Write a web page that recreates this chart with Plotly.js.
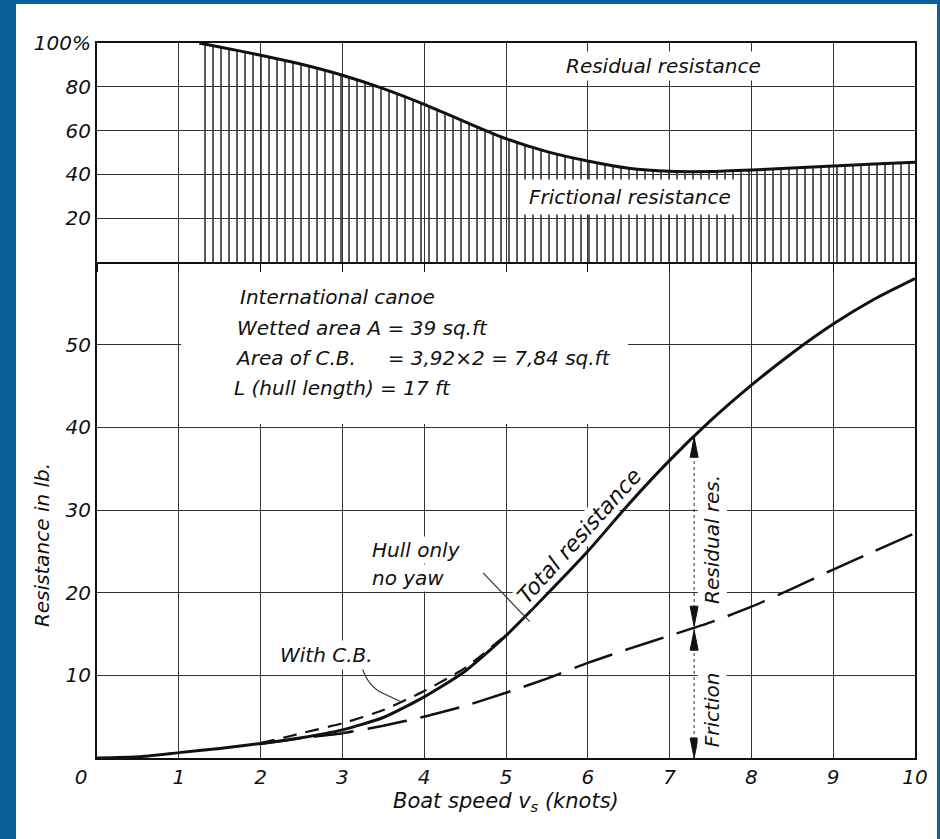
<!DOCTYPE html>
<html><head><meta charset="utf-8">
<script src="https://cdn.plot.ly/plotly-3.0.1.min.js"></script>
<style>
html,body{margin:0;padding:0;background:#0a5f97;width:940px;height:839px;overflow:hidden}
#chart{position:absolute;left:16px;top:4px;width:921px;height:835px;background:#fff}
</style></head><body><div id="chart"></div>
<script>
// ---- data ----
// Lower panel: resistance in lb vs boat speed in knots
const totalSpeed = [0,0.5,1,1.5,2,2.5,3,3.5,4,4.5,5,5.5,6,6.5,7,7.5,8,8.5,9,9.5,10];
const totalRes   = [0,0.15,0.65,1.15,1.75,2.45,3.4,4.9,7.4,10.5,14.8,19.8,25.0,30.7,36.0,40.8,45.1,49.0,52.5,55.5,58.0];
const withCBSpeed = [2.0,2.3,2.5,3.0,3.5,4.0,4.5,5.0];
const withCBRes   = [1.8,2.5,3.0,4.2,5.8,8.1,10.9,14.9];
const frictionSpeed = [2,2.5,3,3.5,4,4.5,5,5.5,6,6.5,7,7.5,8,8.5,9,9.5,10];
const frictionRes   = [1.7,2.4,3.0,3.9,5.0,6.3,7.9,9.6,11.5,13.2,14.8,16.4,18.3,20.5,22.8,25.0,27.2];
// Upper panel: frictional share of total resistance (%)
const shareSpeed = [1.25,1.5,2,2.5,3,3.5,4,4.5,5,5.5,6,6.5,7,7.5,8,8.5,9,9.5,10];
const sharePct   = [100,98.2,94.4,90.3,85.3,79.2,72,64,56.3,50.4,46.1,42.8,41.4,41.3,42,42.9,43.8,44.7,45.5];
// Marked speed with residual / friction split
const splitSpeed = 7.3;
const splitTotal = 38.8;
const splitFriction = 15.7;
// Tick labels
const xTickVals = [0,1,2,3,4,5,6,7,8,9,10];
const xTickText = ['0\u00a0\u00a0\u00a0\u00a0\u00a0','1','2','3','4','5','6','7','8','9','10'];
const yTickVals = [10,20,30,40,50];
const yTickText = ['10','20','30','40','50'];
const y2TickVals = [20,40,60,80,100];
const y2TickText = ['20','40','60','80','100%'];
const infoLines = ['International canoe','Wetted area A = 39 sq.ft',
  'Area of C.B.\u00a0\u00a0\u00a0\u00a0\u00a0= 3,92\u00d72 = 7,84 sq.ft','L (hull length) = 17 ft'];

// ---- styling ----
const FONT = 'DejaVu Sans, Liberation Sans, sans-serif';
const INK = '#111';
const GRID = '#333';
const tf = {family: FONT, size: 20, color: INK, style: 'italic'};

const traces = [
  {x: shareSpeed, y: sharePct, xaxis: 'x2', yaxis: 'y2', type: 'scatter', mode: 'lines',
   line: {color: INK, width: 3, shape: 'spline', smoothing: 0.6},
   fill: 'tozeroy', fillcolor: 'rgba(0,0,0,0)',
   fillpattern: {shape: '|', size: 8, solidity: 0.2, fgcolor: '#333', bgcolor: 'rgba(0,0,0,0)'},
   hoverinfo: 'skip', showlegend: false},
  {x: frictionSpeed, y: frictionRes, type: 'scatter', mode: 'lines',
   line: {color: INK, width: 2.5, dash: '40px,14px', shape: 'spline', smoothing: 0.6},
   hoverinfo: 'skip', showlegend: false},
  {x: withCBSpeed, y: withCBRes, type: 'scatter', mode: 'lines',
   line: {color: INK, width: 2.2, dash: '14px,9px', shape: 'spline', smoothing: 0.6},
   hoverinfo: 'skip', showlegend: false},
  {x: totalSpeed, y: totalRes, type: 'scatter', mode: 'lines',
   line: {color: INK, width: 3, shape: 'spline', smoothing: 0.6},
   hoverinfo: 'skip', showlegend: false}
];

const lowerTop = 496/715;
const axisCommon = {showgrid: true, gridcolor: GRID, gridwidth: 1, zeroline: false,
  showline: true, linecolor: INK, linewidth: 2, mirror: true, tickfont: tf, fixedrange: true};

function txt(text, x, y, opts) {
  return Object.assign({text: text, x: x, y: y, xref: 'x', yref: 'y', showarrow: false,
    font: tf, bgcolor: '#fff', borderpad: 2}, opts || {});
}
const annotations = [
  txt('Residual resistance', 6.93, 89.5, {xref: 'x2', yref: 'y2'}),
  txt('Frictional resistance', 6.52, 29.8, {xref: 'x2', yref: 'y2', borderpad: 5}),
  txt(infoLines[0], 1.71, 55.8, {xanchor: 'left'}),
  txt(infoLines[1], 1.67, 52.0, {xanchor: 'left'}),
  txt(infoLines[2], 1.65, 48.4, {xanchor: 'left'}),
  txt(infoLines[3], 1.64, 44.8, {xanchor: 'left'}),
  txt('Hull only', 3.34, 25.2, {xanchor: 'left', borderpad: 1}),
  txt('no yaw', 3.34, 21.8, {xanchor: 'left', borderpad: 1}),
  txt('With C.B.', 2.20, 12.5, {xanchor: 'left'}),
  txt('Total resistance', 5.90, 26.9, {textangle: -48, borderpad: 0,
    font: Object.assign({}, tf, {size: 22})}),
  txt('Residual res.', 7.52, 26.4, {textangle: -90}),
  txt('Friction', 7.52, 5.8, {textangle: -90}),
  {text: 'Resistance in lb.', xref: 'paper', yref: 'paper', x: -0.067, y: 0.298,
   xanchor: 'center', yanchor: 'middle', showarrow: false, textangle: -90, font: tf},
  {text: 'Boat speed v<sub>s</sub> (knots)', xref: 'paper', yref: 'paper', x: 0.5, y: -0.061,
   xanchor: 'center', yanchor: 'middle', showarrow: false, font: Object.assign({}, tf, {size: 21})}
];

function head(yval, path) {
  return {type: 'path', xref: 'x', yref: 'y', xsizemode: 'pixel', ysizemode: 'pixel',
    xanchor: splitSpeed, yanchor: yval, path: path, fillcolor: INK, line: {color: INK, width: 1}};
}
const shapes = [
  {type: 'rect', xref: 'x', yref: 'y', x0: 1.03, x1: 6.49, y0: 40.4, y1: 60,
   fillcolor: '#fff', line: {width: 0}, layer: 'between'},
  {type: 'line', xref: 'x', yref: 'y', x0: splitSpeed, x1: splitSpeed, y0: 0, y1: splitTotal,
   line: {color: '#333', width: 1, dash: '3px,3px'}},
  head(splitTotal, 'M0,0 L-4,-20 L4,-20 Z'),
  head(splitFriction, 'M0,2 L-4,22 L4,22 Z'),
  head(splitFriction, 'M0,-2 L-4,-22 L4,-22 Z'),
  head(0, 'M0,0 L-4,20 L4,20 Z'),
  {type: 'path', xref: 'x', yref: 'y', path: 'M3.24,11 C3.29,9.3 3.37,8.4 3.5,7.8 L3.7,6.9',
   line: {color: '#333', width: 1.2}},
  {type: 'line', xref: 'x', yref: 'y', x0: 4.72, y0: 22.4, x1: 5.29, y1: 16.5,
   line: {color: '#333', width: 1.2}}
];

const layout = {
  width: 921, height: 835,
  margin: {l: 81, r: 22, t: 39, b: 81},
  paper_bgcolor: '#fff', plot_bgcolor: 'rgba(0,0,0,0)',
  showlegend: false,
  xaxis: Object.assign({}, axisCommon, {domain: [0, 1], range: [0, 10], anchor: 'y', mirror: false,
    tickmode: 'array', tickvals: xTickVals, ticktext: xTickText, ticks: ''}),
  yaxis: Object.assign({}, axisCommon, {domain: [0, lowerTop], range: [0, 60], anchor: 'x',
    tickmode: 'array', tickvals: yTickVals, ticktext: yTickText, ticks: ''}),
  xaxis2: Object.assign({}, axisCommon, {domain: [0, 1], range: [0, 10], anchor: 'y2',
    tickmode: 'array', tickvals: xTickVals, showticklabels: false,
    ticks: 'outside', ticklen: 8, tickwidth: 1, tickcolor: INK}),
  yaxis2: Object.assign({}, axisCommon, {domain: [lowerTop, 1], range: [0, 100], anchor: 'x2',
    tickmode: 'array', tickvals: y2TickVals, ticktext: y2TickText, ticks: ''}),
  annotations: annotations,
  shapes: shapes
};

Plotly.newPlot('chart', traces, layout, {displayModeBar: false, staticPlot: true});
</script></body></html>
